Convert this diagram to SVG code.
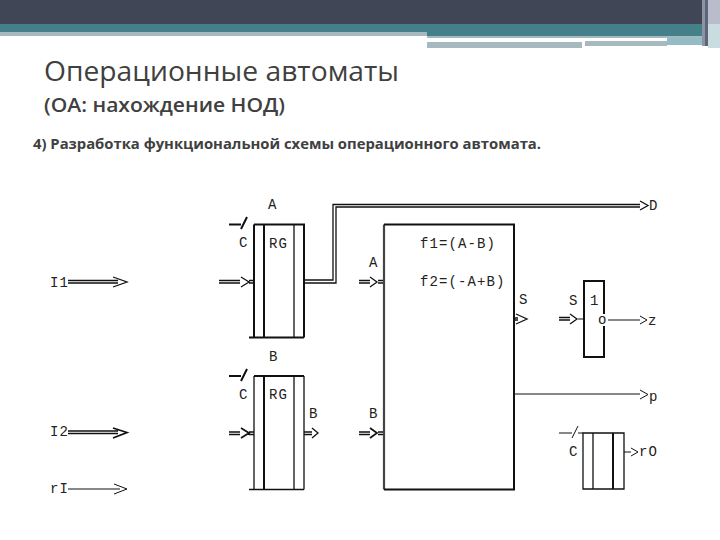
<svg xmlns="http://www.w3.org/2000/svg" width="720" height="540" viewBox="0 0 720 540">
<style>
.m{font-family:"Liberation Mono",monospace;font-size:14px;letter-spacing:1.1px;fill:#222}
.s{font-family:"Open Sans","Noto Sans",sans-serif;fill:#404040}
.k{fill:none;stroke:#111;stroke-width:2}
.t{fill:none;stroke:#111;stroke-width:1.3}
.h{fill:none;stroke:#111;stroke-width:1.7}
.w{fill:none;stroke:#111;stroke-width:1}
</style>
<rect width="720" height="540" fill="#fff"/>
<g id="header">
<rect width="720" height="24" fill="#404656"/>
<rect y="24" width="720" height="8" fill="#44808a"/>
<rect y="32" width="427" height="4" fill="#a6b9bf"/>
<rect x="427" y="32" width="275" height="4" fill="#44808a"/>
<rect x="427" y="36" width="275" height="2" fill="#a6b9bf"/>
<rect x="667" y="38" width="35" height="7" fill="#93bcc6"/>
<rect x="585" y="41" width="82" height="5" fill="#a6b9bf"/>
<rect x="427" y="42" width="155" height="6" fill="#a6b9bf"/>
<rect x="702" y="0" width="3" height="46" fill="#8c93a3"/>
<rect x="705" y="0" width="3" height="46" fill="#5d6578"/>
<rect x="708" y="0" width="12" height="24" fill="#b9bccb"/>
<rect x="708" y="24" width="12" height="24" fill="#c9dde0"/>
</g>
<g id="titles">
<text class="s" x="44" y="81" font-size="28" lengthAdjust="spacingAndGlyphs" textLength="355">Операционные автоматы</text>
<text class="s" x="44" y="112" font-size="20" font-weight="600" lengthAdjust="spacingAndGlyphs" textLength="241">(ОА: нахождение НОД)</text>
<text class="s" x="33" y="149" font-size="14" font-weight="700" lengthAdjust="spacingAndGlyphs" textLength="508">4) Разработка функциональной схемы операционного автомата.</text>
</g>
<g id="connectors">
<path class="t" d="M68 280.500H118M68 283H118M113 277L127 282L113 287"/>
<path class="h" d="M68 431H118M68 433.500H118M113 428L127 432.500L113 438"/>
<path class="w" d="M68 489H120M114 484L127 489L114 494"/>
<path class="t" d="M219 280.500H240M219 283H240M241 277L249 282L241 287M249 280.500H254M249 283H254"/>
<path class="h" d="M229 432H240M229 434.500H240M241 428L249 433L241 438M249 432H254M249 434.500H254"/>
<path class="k" d="M229 224.500H241M229 376H241"/>
<path class="k" d="M241 229L247 217M241 381L247 369"/>
<path class="t" d="M304 280H333V204.500H640M304 283H336V207H640M640 201L648 205.500L640 210"/>
<path class="t" d="M304 432H312M304 434.500H312M312 428L318 433L312 438"/>
<path class="t" d="M359 280.500H370M359 283H370M370 277L377 282L370 287M378 280.500H384M378 283H384"/>
<path class="h" d="M359 432H370M359 434.500H370M370 428L377 433L370 438M378 432H384M378 434.500H384"/>
<path class="t" d="M514 318H518M514 320H518M516 314L527 319L516 324"/>
<path class="t" d="M559 317.500H570M559 320H570M570 314L577 319L570 324"/>
<path class="w" d="M578 319H584M608 320H640M640 316L647 320L640 324"/>
<path class="w" d="M514 394H640M640 390L648 394.500L640 399"/>
<path class="w" d="M559 433H572M572 438L578 426M578 433H583M624 452H631M631 448L638 452L631 456"/>
</g>
<g id="reg-a">
<path class="k" d="M254 224.500H304V337.500M254 224.500V337.500M264 224.500V337.500M249 337.500H304"/>
<path class="t" d="M294 224.500V337.500"/>
<text class="m" x="268" y="209">A</text><text class="m" x="239" y="247">C</text><text class="m" x="269" y="248">RG</text>
</g>
<g id="reg-b">
<path class="k" d="M254 376H304M264 376V489.500"/>
<path class="t" d="M254 376V489.500M304 376V489.500M294 376V489.500M249 489.500H304"/>
<text class="m" x="269" y="361">B</text><text class="m" x="239" y="399">C</text><text class="m" x="269" y="399">RG</text><text class="m" x="309" y="418">B</text>
</g>
<g id="alu">
<path d="M384 224.500V489.500" fill="none" stroke="#444" stroke-width="2.200"/>
<path class="k" d="M384 224.500H514V489.500H384"/>
<text class="m" x="369" y="267">A</text><text class="m" x="369" y="418">B</text>
<text class="m" x="420" y="248">f1=(A-B)</text><text class="m" x="420" y="286">f2=(-A+B)</text>
<text class="m" x="519" y="304">S</text>
</g>
<g id="gate">
<rect class="k" x="584" y="281" width="20" height="76"/>
<rect x="598" y="314" width="10" height="12" fill="#fff"/>
<text class="m" x="569" y="305">S</text><text class="m" x="590" y="305">1</text><text class="m" x="598" y="324">o</text><text class="m" x="648" y="325">z</text>
</g>
<g id="outputs">
<text class="m" x="649" y="210">D</text><text class="m" x="649" y="401">p</text>
<text class="m" x="50" y="287">I1</text><text class="m" x="50" y="436">I2</text><text class="m" x="50" y="493">rI</text>
</g>
<g id="reg-r">
<path class="t" d="M583 433H624V489H583ZM593 433V489"/>
<path class="k" d="M613 433V489"/>
<text class="m" x="569" y="456">C</text><text class="m" x="639" y="456">rO</text>
</g>
</svg>
